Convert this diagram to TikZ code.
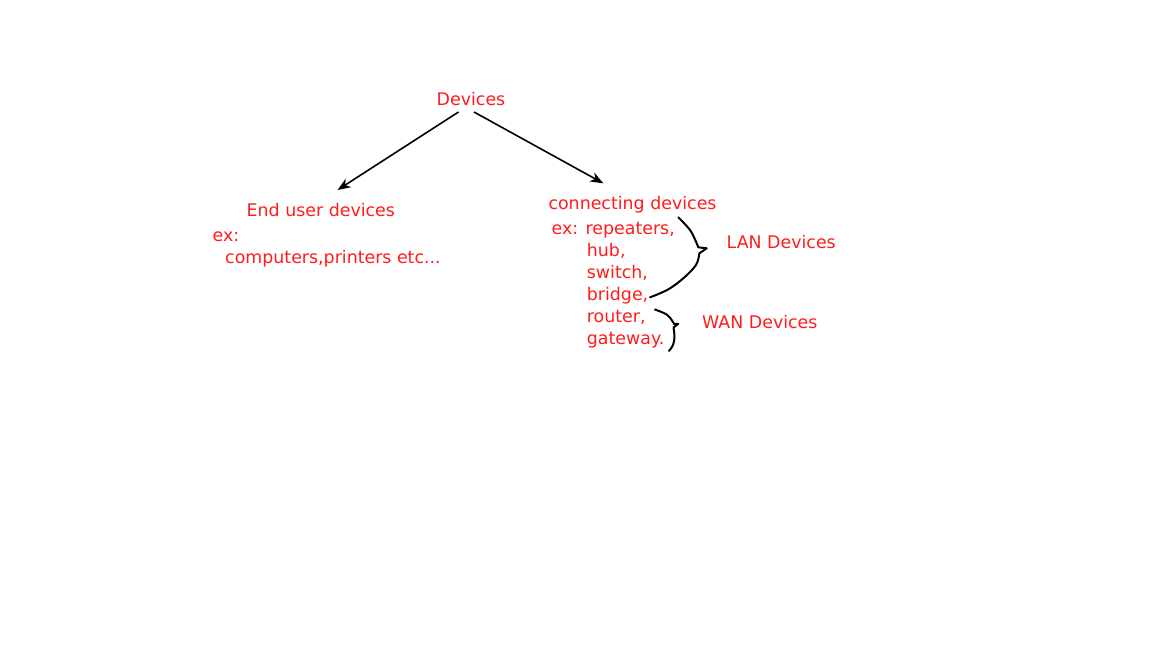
\documentclass[tikz,border=0pt]{standalone}
\usepackage{fontspec}
\setmainfont{DejaVu Sans}
\usetikzlibrary{arrows.meta,calc}
\definecolor{txtred}{RGB}{255,28,28}
\begin{document}
\begin{tikzpicture}[x=1pt,y=-1pt,
  lbl/.style={text=txtred,font=\fontsize{17.4}{21}\selectfont,inner sep=0pt,anchor=base west},
  arr/.style={line width=1.6pt,-{Stealth[length=13pt,width=10pt,inset=4pt]}},
  brace/.style={line width=2pt,line cap=round,line join=round}]
\useasboundingbox[fill=white] (0,0) rectangle (1168,657);
\node[lbl] (devices) at (436.5,105) {Devices};
\node[lbl] (enduser) at (246.5,216) {End user devices};
\node[lbl] (ex1) at (212.5,241.5) {ex:};
\node[lbl] (comp) at (225,263.5) {computers,printers etc...};
\node[lbl] (conn) at (548.3,209.3) {connecting devices};
\node[lbl] (ex2) at (551.5,234.3) {ex: repeaters,};
\node[lbl] (hub) at (586.7,256.3) {hub,};
\node[lbl] (switch) at (586.7,278.3) {switch,};
\node[lbl] (bridge) at (586.7,300.3) {bridge,};
\node[lbl] (router) at (586.7,322.3) {router,};
\node[lbl] (gateway) at (586.7,344.3) {gateway.};
\node[lbl] (lan) at (726.5,248.3) {LAN Devices};
\node[lbl] (wan) at (702,328.3) {WAN Devices};
\coordinate (dl) at ($(devices.base west)+(22,7)$);
\coordinate (dr) at ($(devices.base west)+(37.5,7)$);
\coordinate (el) at ($(enduser.base west)+(91,-26)$);
\coordinate (cr) at ($(conn.base west)+(55,-26)$);
\draw[arr] (dl) -- (el);
\draw[arr] (dr) -- (cr);
\draw[brace] plot[smooth,tension=0.6] coordinates {(678.3,217.3) (690,230) (696,241.7) (698.3,247.3)}
  -- (706.7,248.3) -- (699.3,253.3)
  plot[smooth,tension=0.6] coordinates {(699.3,253.3) (696,265) (683.3,278.3) (670,288.3) (660,293.3) (650,297.3)};
\draw[brace] plot[smooth,tension=0.6] coordinates {(655,309.5) (666.7,314.5) (672,320.5) (674,324)}
  -- (678.3,323.8) -- (673.5,327.5)
  plot[smooth,tension=0.6] coordinates {(673.5,327.5) (674.5,337) (673,345) (669,351)};
\end{tikzpicture}
\end{document}
